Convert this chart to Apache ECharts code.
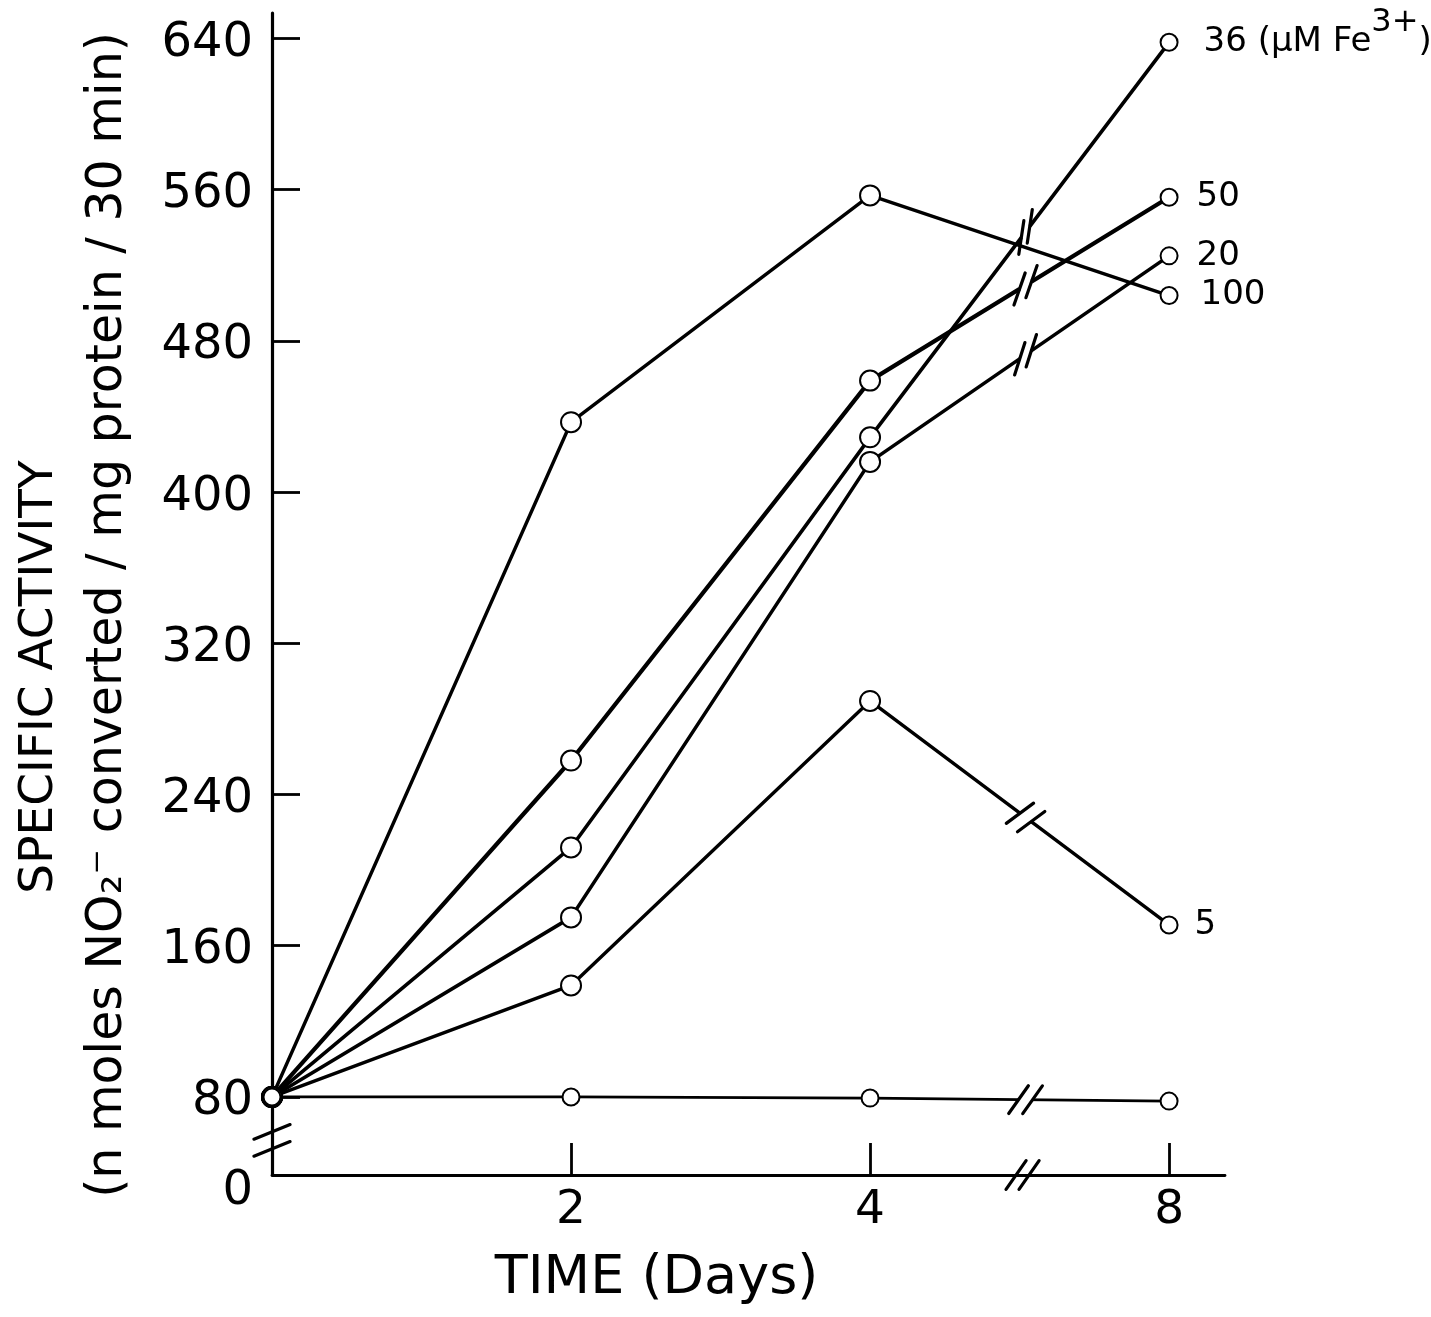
<!DOCTYPE html>
<html><head><meta charset="utf-8">
<script src="https://cdn.jsdelivr.net/npm/echarts@6/dist/echarts.min.js"></script>
<style>html,body{margin:0;padding:0;background:#fff}#c{width:1431px;height:1317px}</style>
</head><body><div id="c"></div>
<script>
// ---- data ----
const dayLabels = ['0', '2', '4', '8'];          // time (days); axis broken between 4 and 8
const yTickValues = [80, 160, 240, 320, 400, 480, 560, 640];
const seriesNames = ['100', '50', '36', '20', '5', '0'];
const endLabels = ['100', '50', '36 (μM Fe{sup|3+})', '20', '5', ''];
const fe100 = [80, 437, 557, 504];
const fe50  = [80, 258, 459, 556];
const fe36  = [80, 212, 429, 638];
const fe20  = [80, 175, 416, 525];
const fe5   = [80, 139, 289.5, 171];
const fe0   = [80, 80, 79.4, 77.8];

// ---- layout / style ----
const FONT = "'DejaVu Sans', sans-serif";
const Y_MIN = 38.7, Y_MAX = 653.5, X_MAX = 3.187;
const allSeries = [fe100, fe50, fe36, fe20, fe5, fe0];
const labelDist = [22, 18, 25, 18, 16, 0];
const widths = [3.4, 4.2, 3.6, 3.6, 3.4, 2.8];

const chart = echarts.init(document.getElementById('c'), null, {renderer: 'canvas'});

function buildSeries(vals, k) {
  return {
    type: 'line', name: seriesNames[k],
    data: vals.map((v, i) => {
      const item = {value: [i, v]};
      if (i === vals.length - 1 && endLabels[k]) item.label = {show: true};
      return item;
    }),
    symbol: 'emptyCircle',
    symbolSize: (v, p) => k === 5 ? 17 : (p.dataIndex === 3 ? 17 : 20),
    showAllSymbol: true,
    lineStyle: {color: '#000', width: widths[k]},
    itemStyle: {color: '#000', borderColor: '#000', borderWidth: 3},
    label: {
      show: false, position: 'right', distance: labelDist[k], formatter: endLabels[k],
      color: '#000', fontFamily: FONT, fontSize: 34,
      rich: {sup: {fontSize: 32, fontFamily: FONT, color: '#000', padding: [0, 0, 40, 0]}}
    },
    emphasis: {disabled: true},
    clip: false, z: 3
  };
}

const option = {
  backgroundColor: '#fff',
  animation: false,
  grid: {left: 272, right: 206, top: 13, bottom: 142, containLabel: false, outerBoundsMode: 'none'},
  xAxis: {
    type: 'value', min: 0, max: X_MAX,
    splitLine: {show: false},
    axisLine: {onZero: false, lineStyle: {color: '#000', width: 2.8}},
    axisTick: {show: true, inside: true, length: 32, customValues: [1, 2, 3], lineStyle: {color: '#000', width: 2.8}},
    axisLabel: {customValues: [1, 2, 3], formatter: v => dayLabels[Math.round(v)], margin: 12,
      color: '#000', fontFamily: FONT, fontSize: 47},
    name: 'TIME (Days)', nameLocation: 'middle', nameGap: 77,
    nameTextStyle: {fontSize: 54, fontFamily: FONT, color: '#000', padding: [0, 184, 0, 0]}
  },
  yAxis: {
    type: 'value', min: Y_MIN, max: Y_MAX,
    splitLine: {show: false},
    axisLine: {show: true, onZero: false, lineStyle: {color: '#000', width: 3.2}},
    axisTick: {show: true, inside: true, length: 28, customValues: yTickValues, lineStyle: {color: '#000', width: 2.8}},
    axisLabel: {
      show: true, customValues: [Y_MIN].concat(yTickValues), margin: 19,
      color: '#000', fontFamily: FONT, fontSize: 48,
      formatter: v => v < yTickValues[0] ? '{z|' + dayLabels[0] + '}' : '{n|' + v + '}',
      rich: {
        n: {fontSize: 48, fontFamily: FONT, color: '#000', padding: [10, 0, 0, 0]},
        z: {fontSize: 48, fontFamily: FONT, color: '#000', padding: [34, 0, 0, 0]}
      }
    }
  },
  series: allSeries.map(buildSeries)
};
chart.setOption(option);

// ---- decorations: axis titles and break marks (positions from the chart's scales) ----
const gfx = [];
gfx.push({type: 'text', x: 40, y: 677, rotation: Math.PI / 2, z: 50,
  style: {text: 'SPECIFIC ACTIVITY', fontSize: 47, fontFamily: FONT, fill: '#000', align: 'center', verticalAlign: 'middle'}});
gfx.push({type: 'text', x: 108, y: 615, rotation: Math.PI / 2, z: 50,
  style: {text: '(n moles NO₂⁻ converted / mg protein / 30 min)', fontSize: 49, fontFamily: FONT, fill: '#000', align: 'center', verticalAlign: 'middle'}});

function slashPair(cx, cy, ux, uy, markDeg, len, sep, gap) {
  const a = markDeg * Math.PI / 180;
  const mx = Math.cos(a), my = -Math.sin(a);
  if (gap) {
    gfx.push({type: 'line', z: 60, shape: {x1: cx - ux * sep / 2, y1: cy - uy * sep / 2, x2: cx + ux * sep / 2, y2: cy + uy * sep / 2},
      style: {stroke: '#fff', lineWidth: 10}});
  }
  [-1, 1].forEach(s => {
    const px = cx + s * ux * sep / 2, py = cy + s * uy * sep / 2;
    gfx.push({type: 'line', z: 61, shape: {x1: px - mx * len / 2, y1: py - my * len / 2, x2: px + mx * len / 2, y2: py + my * len / 2},
      style: {stroke: '#000', lineWidth: 3.2, lineCap: 'round'}});
  });
}

allSeries.forEach((vals, k) => {
  if (k === 0) return;
  const p4 = chart.convertToPixel({seriesIndex: k}, [2, vals[2]]);
  const p8 = chart.convertToPixel({seriesIndex: k}, [3, vals[3]]);
  const t = 0.52;
  const cx = p4[0] + t * (p8[0] - p4[0]), cy = p4[1] + t * (p8[1] - p4[1]);
  const dx = p8[0] - p4[0], dy = p8[1] - p4[1];
  const L = Math.hypot(dx, dy);
  const theta = Math.atan2(-dy, dx) * 180 / Math.PI;
  slashPair(cx, cy, dx / L, dy / L, 55 + 0.5 * theta, 34, 14, true);
});
// x-axis break
const xb = chart.convertToPixel({xAxisIndex: 0}, 2.51);
const yb0 = chart.convertToPixel({yAxisIndex: 0}, Y_MIN);
slashPair(xb, yb0, 1, 0, 55, 35, 13, false);
// y-axis break
const xa0 = chart.convertToPixel({xAxisIndex: 0}, 0);
const yb = chart.convertToPixel({yAxisIndex: 0}, 57);
slashPair(xa0, yb, 0, -1, 22, 39, 17, false);

chart.setOption({graphic: gfx});
</script>
</body></html>
